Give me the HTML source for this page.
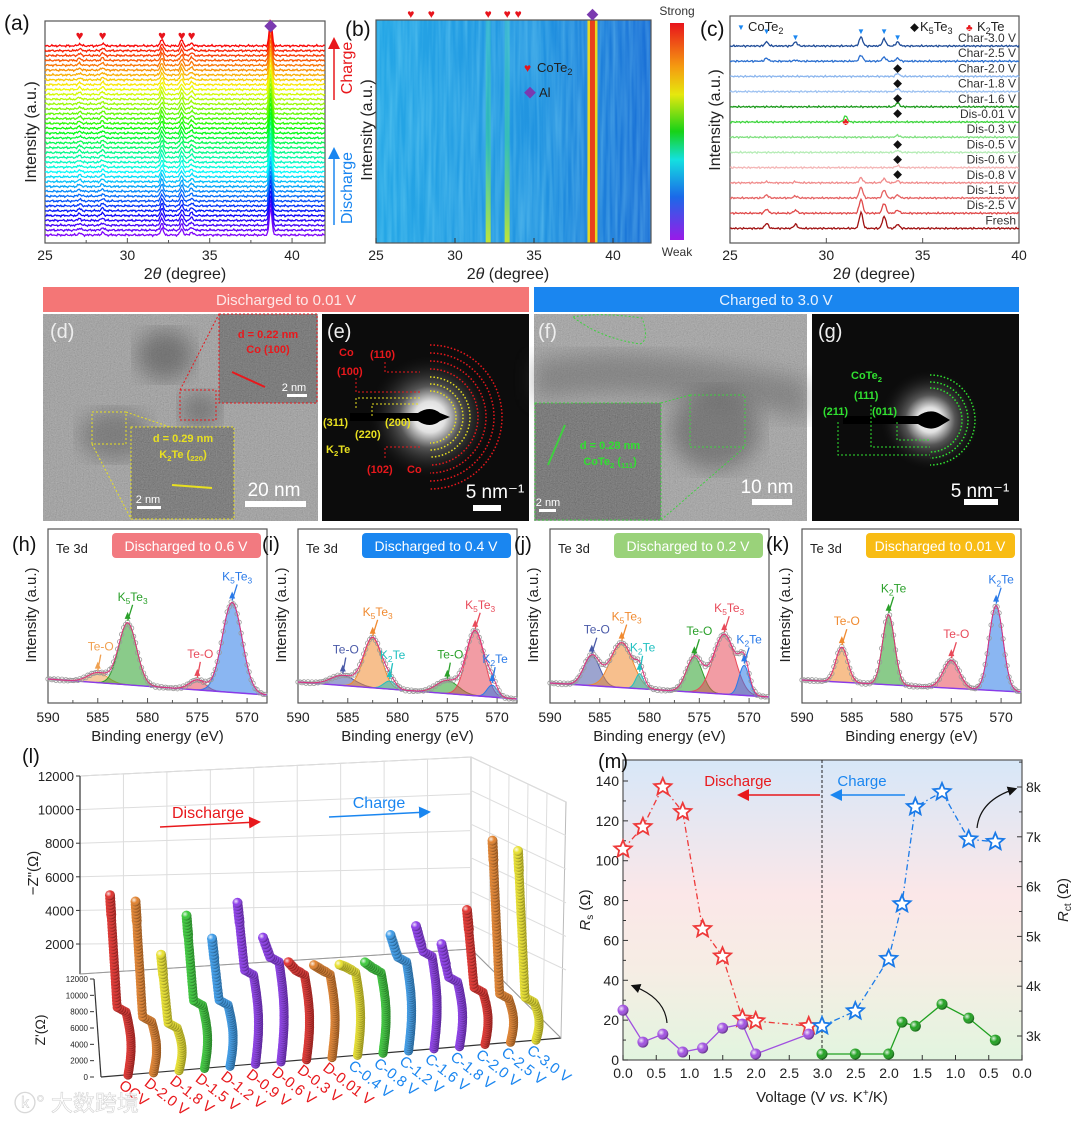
<!DOCTYPE html>
<html><head><meta charset="utf-8"><title>Figure</title>
<style>
html,body{margin:0;padding:0;background:#fff;}
svg{display:block;font-family:"Liberation Sans","Noto Sans CJK SC",sans-serif;}
</style></head>
<body>
<svg id="fig" width="1080" height="1123" viewBox="0 0 1080 1123" xmlns="http://www.w3.org/2000/svg">
<defs>
  <filter id="noise" x="0" y="0" width="100%" height="100%">
    <feTurbulence type="fractalNoise" baseFrequency="0.85" numOctaves="2" seed="3"/>
    <feColorMatrix type="matrix" values="0.33 0.33 0.33 0 0  0.33 0.33 0.33 0 0  0.33 0.33 0.33 0 0  0 0 0 0 1"/>
  </filter>
  <filter id="streak" x="0" y="0" width="100%" height="100%">
    <feTurbulence type="fractalNoise" baseFrequency="0.25 0.012" numOctaves="2" seed="5"/>
    <feColorMatrix type="matrix" values="0 0 0 0 0.4  0 0 0 0 0.9  0 0 0 0 1  0 0 0 0.9 -0.25"/>
  </filter>
  <filter id="blur6"><feGaussianBlur stdDeviation="10"/></filter>
  <linearGradient id="hmBg" x1="0" x2="1" y1="0" y2="0">
    <stop offset="0" stop-color="#25a7e6"/><stop offset="0.6" stop-color="#2193e0"/><stop offset="1" stop-color="#1a6fd6"/>
  </linearGradient>
  <linearGradient id="bandG" x1="0" x2="0" y1="0" y2="1">
    <stop offset="0" stop-color="#40e0a0" stop-opacity="0.25"/><stop offset="0.55" stop-color="#40e080" stop-opacity="0.45"/><stop offset="1" stop-color="#c8e830" stop-opacity="0.95"/>
  </linearGradient>
  <linearGradient id="cbar" x1="0" x2="0" y1="0" y2="1">
    <stop offset="0" stop-color="#e8141c"/><stop offset="0.2" stop-color="#f59a10"/><stop offset="0.33" stop-color="#e6e80e"/>
    <stop offset="0.5" stop-color="#17d217"/><stop offset="0.63" stop-color="#14e0e0"/><stop offset="0.8" stop-color="#1a6ae8"/>
    <stop offset="1" stop-color="#9a1ae8"/>
  </linearGradient>
  <linearGradient id="mBg" x1="0" x2="0" y1="0" y2="1">
    <stop offset="0" stop-color="#d7e7f8"/><stop offset="0.45" stop-color="#fbe7e8"/><stop offset="0.7" stop-color="#f6ede4"/><stop offset="1" stop-color="#e2f5df"/>
  </linearGradient>
  <radialGradient id="saed" cx="0.5" cy="0.5" r="0.5">
    <stop offset="0" stop-color="#ffffff"/><stop offset="0.25" stop-color="#e0e0e0"/><stop offset="0.5" stop-color="#555"/><stop offset="1" stop-color="#111" stop-opacity="0"/>
  </radialGradient>
  <radialGradient id="ball" cx="0.35" cy="0.35" r="0.65">
    <stop offset="0" stop-color="#fff" stop-opacity="0.85"/><stop offset="0.5" stop-color="#fff" stop-opacity="0"/><stop offset="1" stop-color="#000" stop-opacity="0.35"/>
  </radialGradient>
  <marker id="arrR" markerWidth="8" markerHeight="8" refX="6" refY="4" orient="auto"><path d="M0,0 L8,4 L0,8 z" fill="#e8181c"/></marker>
  <marker id="arrB" markerWidth="8" markerHeight="8" refX="6" refY="4" orient="auto"><path d="M0,0 L8,4 L0,8 z" fill="#1a86f0"/></marker>
  <marker id="arrK" markerWidth="8" markerHeight="8" refX="6" refY="4" orient="auto"><path d="M0,0 L8,4 L0,8 z" fill="#111"/></marker>
</defs>
<g id="root"></g>
</svg>
<script>
// ---------------- DATA ----------------
const aPeaks=[27.1,28.5,32.1,33.3,33.9,38.7];
const aHeights=[2,2.5,7,6,3,26];
const aTraceCount=40;
const aTicks=[25,30,35,40];
const bPeaks=[32.1,33.3,38.7];
const bTicks=[25,30,35,40];
const cLabels=['Char-3.0 V','Char-2.5 V','Char-2.0 V','Char-1.8 V','Char-1.6 V','Dis-0.01 V','Dis-0.3 V','Dis-0.5 V','Dis-0.6 V','Dis-0.8 V','Dis-1.5 V','Dis-2.5 V','Fresh'];
const cColors=['#1f4c98','#2b6fd0','#8cb6ee','#9ec2f1','#1b9a1b','#3bd43b','#7fe07f','#b6ecb6','#f4b6b6','#f08b8b','#e56262','#e04a4a','#a01212'];
const cPeakPos=[26.9,28.4,31.8,33.0,33.7,31.0];
const cPeakInt=[[4,4,9,7,4,0],[3,1,6,4,3,0],[0,0,0,0,3,0],[0,0,0,0,3,0],[0,0,0,0,4,0],[0,0,0,0,0,6],[0,0,0,0,2,0],[0,0,0,0,2,0],[0,0,0,0,2,0],[1,1,5,4,2,0],[3,2,11,8,3,0],[4,3,14,10,3,0],[5,4,16,12,4,0]];
const cTicks=[25,30,35,40];
const xpsTicks=[590,585,580,575,570];
const xpsH=[{c:585,h:.1,s:1.0,col:'#f0a050',lab:'Te-O'},{c:582,h:.62,s:.9,col:'#2aa02a',lab:'K5Te3'},{c:575,h:.1,s:.8,col:'#e84a5a',lab:'Te-O'},{c:571.5,h:.9,s:1.0,col:'#2a7ae8',lab:'K5Te3'}];
const xpsI=[{c:585.5,h:.1,s:1.2,col:'#4a5aa8',lab:'Te-O'},{c:582.5,h:.5,s:.9,col:'#f08a30',lab:'K5Te3'},{c:580.8,h:.08,s:.6,col:'#20c0c0',lab:'K2Te'},{c:575,h:.13,s:1.1,col:'#2aa02a',lab:'Te-O'},{c:572.2,h:.65,s:.9,col:'#e84a5a',lab:'K5Te3'},{c:570.5,h:.12,s:.5,col:'#2a7ae8',lab:'K2Te'}];
const xpsJ=[{c:585.8,h:.3,s:.8,col:'#4a5aa8',lab:'Te-O'},{c:582.8,h:.45,s:1.1,col:'#f08a30',lab:'K5Te3'},{c:581,h:.15,s:.4,col:'#20c0c0',lab:'K2Te'},{c:575.5,h:.35,s:.8,col:'#2aa02a',lab:'Te-O'},{c:572.5,h:.6,s:1.1,col:'#e84a5a',lab:'K5Te3'},{c:570.5,h:.3,s:.5,col:'#2a7ae8',lab:'K2Te'}];
const xpsK=[{c:586,h:.35,s:.6,col:'#f08a30',lab:'Te-O'},{c:581.3,h:.7,s:.6,col:'#2aa02a',lab:'K2Te'},{c:575,h:.28,s:.8,col:'#e84a5a',lab:'Te-O'},{c:570.5,h:.85,s:.7,col:'#2a7ae8',lab:'K2Te'}];
const lNames=['OCV','D-2.0 V','D-1.8 V','D-1.5 V','D-1.2 V','D-0.9 V','D-0.6 V','D-0.3 V','D-0.01 V','C-0.4 V','C-0.8 V','C-1.2 V','C-1.6 V','C-1.8 V','C-2.0 V','C-2.5 V','C-3.0 V'];
const lTopZ=[10700,10200,6900,9100,7600,9600,7400,5800,5500,5400,5400,6900,7300,6100,8000,12000,11250];
const lKneeZ=[3750,3050,2550,3750,3650,5300,5950,5050,4950,4950,4800,5300,5500,3850,3100,2600,2250];
const lColors=['#e0302c','#e0802c','#e8e02c','#3ac83a','#3a9ae8','#8a3ae8','#8a3ae8','#e0302c','#e0802c','#e8e02c','#3ac83a','#3a9ae8','#8a3ae8','#8a3ae8','#e0302c','#e0802c','#e8e02c'];
const lZTicks=[12000,10000,8000,6000,4000,2000];
const lZpTicks=[12000,10000,8000,6000,4000,2000,0];
const mV=[0,0.3,0.6,0.9,1.2,1.5,1.8,2.0,2.8];
const mRsDis=[25,9,13,4,6,16,18,3,13];
const mRctDis=[6.75,7.2,8.0,7.5,5.15,4.6,3.35,3.3,3.2];
const mVc=[3.0,2.5,2.0,1.8,1.6,1.2,0.8,0.4];
const mRsCh=[3,3,3,19,17,28,21,10];
const mRctCh=[3.2,3.5,4.55,5.65,7.6,7.9,6.95,6.9];
const mLeftTicks=[0,20,40,60,80,100,120,140];
const mRightTicks=[3,4,5,6,7,8];
const mXTicks=['0.0','0.5','1.0','1.5','2.0','2.5','3.0','2.5','2.0','1.5','1.0','0.5','0.0'];

// ---------------- HELPERS ----------------
const NS='http://www.w3.org/2000/svg';
const root=document.getElementById('root');
function mk(tag,parent,attrs){const e=document.createElementNS(NS,tag);for(const k in attrs)e.setAttribute(k,attrs[k]);parent.appendChild(e);return e;}
function grp(name){const g=mk('g',root,{});


return g;}
function tx(parent,x,y,s,attrs){const t=mk('text',parent,Object.assign({x:x,y:y},attrs||{}));t.textContent=s;return t;}
function chem(parent,x,y,s,attrs){const t=mk('text',parent,Object.assign({x:x,y:y},attrs||{}));
  const parts=s.match(/[A-Za-z\-\(\) ]+|\d+/g)||[];
  let prevSub=false;
  parts.forEach(p=>{const ts=mk('tspan',t,{});ts.textContent=p;const sub=/^\d+$/.test(p);if(sub)ts.setAttribute('font-size','0.7em');ts.setAttribute('dy',sub?'3':(prevSub?'-3':'0'));prevSub=sub;});
  return t;}
function frame(g,x,y,w,h){return mk('rect',g,{x:x,y:y,width:w,height:h,fill:'none',stroke:'#555','stroke-width':1.2});}
function jit(v,i){return 0.9*Math.sin(v*37.1+i*3.1)*Math.sin(v*11.3+i*1.7)+0.4*Math.sin(v*91+i);}

// ---------------- PANEL A ----------------
(function(){
const g=grp('panel-a-xrd-waterfall');
const L=45,R=325,T=21,B=243;
const xa=v=>L+(v-25)/17*(R-L);
frame(g,L,T,R-L,B-T);
for(let i=0;i<aTraceCount;i++){
  const base=235-i*4.85;let d='';
  for(let v=25;v<=42.001;v+=0.06){let y=base;aPeaks.forEach((p,k)=>{y-=aHeights[k]*Math.exp(-Math.pow((v-p)/0.12,2));});y-=jit(v,i);d+=(d?'L':'M')+xa(v).toFixed(1)+','+y.toFixed(1);}
  const hue=270-i*270/(aTraceCount-1);
  const p=mk('path',g,{d:d,fill:'none',stroke:'hsl('+hue+',95%,50%)','stroke-width':1.3});
  
  
}
aTicks.forEach(t=>{mk('line',g,{x1:xa(t),x2:xa(t),y1:B,y2:B-5,stroke:'#555'});
  const l=tx(g,xa(t),260,String(t),{'font-size':14,'text-anchor':'middle',fill:'#222'});
  
  });
for(let t=27.5;t<42;t+=5)mk('line',g,{x1:xa(t),x2:xa(t),y1:B,y2:B-3,stroke:'#555'});
const xl=tx(g,185,279,'',{'font-size':16,'text-anchor':'middle',fill:'#222'});xl.innerHTML='2<tspan font-style="italic">θ</tspan> (degree)';


const yl=tx(g,0,0,'Intensity (a.u.)',{'font-size':16,'text-anchor':'middle',fill:'#222',transform:'translate(36,132) rotate(-90)'});


const pl=tx(g,4,30,'(a)',{'font-size':21,fill:'#111'});


aPeaks.forEach((p,k)=>{const s=tx(g,xa(p),k==5?31:40,k==5?'◆':'♥',{'font-size':13,'text-anchor':'middle',fill:k==5?'#7a3ab0':'#e8141c'});
  
  });
mk('line',g,{x1:334,y1:100,x2:334,y2:40,stroke:'#e8181c','stroke-width':1.5,'marker-end':'url(#arrR)'});
const ch=tx(g,0,0,'Charge',{'font-size':16,fill:'#e8181c','text-anchor':'middle',transform:'translate(352,68) rotate(-90)'});


mk('line',g,{x1:334,y1:225,x2:334,y2:150,stroke:'#1a86f0','stroke-width':1.5,'marker-end':'url(#arrB)'});
const dc=tx(g,0,0,'Discharge',{'font-size':16,fill:'#1a86f0','text-anchor':'middle',transform:'translate(352,188) rotate(-90)'});


})();

// ---------------- PANEL B ----------------
(function(){
const g=grp('panel-b-xrd-heatmap');
const L=376,R=651,T=20,B=243;
const xb=v=>L+(v-25)/15*237;
mk('rect',g,{x:L,y:T,width:R-L,height:B-T,fill:'url(#hmBg)'});
mk('rect',g,{x:L,y:T,width:R-L,height:B-T,filter:'url(#streak)',opacity:0.55});
bPeaks.forEach((p,k)=>{
  if(k<2){const r=mk('rect',g,{x:xb(p)-2.5,y:T,width:5,height:B-T,fill:'url(#bandG)'});
    
    }
  else{mk('rect',g,{x:xb(p)-5,y:T,width:10,height:B-T,fill:'#e8d820'});
    const r=mk('rect',g,{x:xb(p)-2.5,y:T,width:5,height:B-T,fill:'#e8401c'});
    
    }
});
frame(g,L,T,R-L,B-T);
bTicks.forEach(t=>{mk('line',g,{x1:xb(t),x2:xb(t),y1:B,y2:B-5,stroke:'#333'});
  const l=tx(g,xb(t),260,String(t),{'font-size':14,'text-anchor':'middle',fill:'#222'});
  
  });
const xl=tx(g,508,279,'',{'font-size':16,'text-anchor':'middle',fill:'#222'});xl.innerHTML='2<tspan font-style="italic">θ</tspan> (degree)';


const yl=tx(g,0,0,'Intensity (a.u.)',{'font-size':16,'text-anchor':'middle',fill:'#222',transform:'translate(372,130) rotate(-90)'});


const pl=tx(g,345,36,'(b)',{'font-size':21,fill:'#111'});


[27.2,28.5,32.1,33.3,34.0].forEach(p=>{const s=tx(g,xb(p),18,'♥',{'font-size':12,'text-anchor':'middle',fill:'#e8141c'});
  
  });
const ds=tx(g,xb(38.7),19,'◆',{'font-size':12,'text-anchor':'middle',fill:'#7a3ab0'});


tx(g,524,72,'♥',{'font-size':12,fill:'#e8141c'});
const l1t=chem(g,537,72,'CoTe2',{'font-size':13,fill:'#222'});


tx(g,524,97,'◆',{'font-size':12,fill:'#7a3ab0'});
const l2t=tx(g,539,97,'Al',{'font-size':13,fill:'#222'});


const cb=mk('rect',g,{x:670,y:23,width:14,height:217,fill:'url(#cbar)'});


const s1=tx(g,677,15,'Strong',{'font-size':12,'text-anchor':'middle',fill:'#333'});


const s2=tx(g,677,256,'Weak',{'font-size':12,'text-anchor':'middle',fill:'#333'});


})();

// ---------------- PANEL C ----------------
(function(){
const g=grp('panel-c-xrd-ex-situ');
const L=730,R=1019,T=16,B=243;
const xc=v=>L+(v-25)/15*(R-L);
frame(g,L,T,R-L,B-T);
cLabels.forEach((lab,i)=>{
  const base=46+i*15.2;let d='';
  for(let v=25;v<=40.001;v+=0.05){let y=base;cPeakPos.forEach((p,k)=>{y-=cPeakInt[i][k]*Math.exp(-Math.pow((v-p)/0.13,2));});y-=0.8*jit(v,i+7);d+=(d?'L':'M')+xc(v).toFixed(1)+','+y.toFixed(1);}
  const p=mk('path',g,{d:d,fill:'none',stroke:cColors[i],'stroke-width':1.3});
  
  
  const t=tx(g,1016,base-4,lab,{'font-size':12,'text-anchor':'end',fill:'#333'});
  
  
});
cTicks.forEach(t=>{mk('line',g,{x1:xc(t),x2:xc(t),y1:B,y2:B-5,stroke:'#555'});
  const l=tx(g,xc(t),260,String(t),{'font-size':14,'text-anchor':'middle',fill:'#222'});
  
  });
const xl=tx(g,874,279,'',{'font-size':16,'text-anchor':'middle',fill:'#222'});xl.innerHTML='2<tspan font-style="italic">θ</tspan> (degree)';


const yl=tx(g,0,0,'Intensity (a.u.)',{'font-size':16,'text-anchor':'middle',fill:'#222',transform:'translate(720,120) rotate(-90)'});


const pl=tx(g,700,36,'(c)',{'font-size':21,fill:'#111'});


[26.9,28.4,31.8,33.0,33.7].forEach((p,k)=>{tx(g,xc(p),k==1||k==4?40:34,'▼',{'font-size':8,'text-anchor':'middle',fill:'#1a86f0'});});
tx(g,737,30,'▼',{'font-size':8,fill:'#1a86f0'});
const lc=chem(g,748,31,'CoTe2',{'font-size':13,fill:'#222'});


[72,87,102,117,148,163,178].forEach(y=>tx(g,xc(33.7),y,'◆',{'font-size':9,'text-anchor':'middle',fill:'#111'}));
tx(g,xc(31.0),125,'♣',{'font-size':10,'text-anchor':'middle',fill:'#e8181c'});
tx(g,910,31,'◆',{'font-size':9,fill:'#111'});
const lk=chem(g,920,31,'K5Te3',{'font-size':13,fill:'#222'});


tx(g,966,31,'♣',{'font-size':10,fill:'#e8181c'});
const lk2=chem(g,977,31,'K2Te',{'font-size':13,fill:'#222'});


})();

// ---------------- BANNERS + TEM ----------------
(function(){
const g=grp('tem-row');
const b1=mk('rect',g,{x:43,y:287,width:486,height:25,fill:'#f47676'});


tx(g,286,305,'Discharged to 0.01 V',{'font-size':15,'text-anchor':'middle',fill:'#fde8e8'});
const b2=mk('rect',g,{x:534,y:287,width:485,height:25,fill:'#1a86f0'});


tx(g,776,305,'Charged to 3.0 V',{'font-size':15,'text-anchor':'middle',fill:'#e8f2fe'});
function tem(x,y,w,h,name,base){const r=mk('rect',g,{x:x,y:y,width:w,height:h,fill:base});
  
  
  return mk('rect',g,{x:x,y:y,width:w,height:h,filter:'url(#noise)',opacity:0.45,'style':'mix-blend-mode:overlay'});}
tem(43,314,275,207,'tem-image-d','#8c8c8c');
mk('ellipse',g,{cx:165,cy:355,rx:28,ry:25,fill:'#444',opacity:0.5,filter:'url(#blur6)'});
mk('ellipse',g,{cx:115,cy:435,rx:35,ry:25,fill:'#444',opacity:0.4,filter:'url(#blur6)'});
mk('ellipse',g,{cx:200,cy:410,rx:20,ry:18,fill:'#444',opacity:0.45,filter:'url(#blur6)'});
mk('rect',g,{x:219,y:314,width:98,height:89,fill:'#555'});
mk('rect',g,{x:219,y:314,width:98,height:89,filter:'url(#noise)',opacity:0.4});
mk('rect',g,{x:219,y:314,width:98,height:89,fill:'none',stroke:'#e8181c','stroke-dasharray':'2,2'});
mk('rect',g,{x:180,y:390,width:36,height:30,fill:'none',stroke:'#e8181c','stroke-dasharray':'2,2'});
mk('polyline',g,{points:'180,390 219,314',fill:'none',stroke:'#e8181c','stroke-dasharray':'2,2'});
tx(g,268,338,'d = 0.22 nm',{'font-size':11,'font-weight':'bold','text-anchor':'middle',fill:'#e8181c'});
tx(g,268,353,'Co (100)',{'font-size':11,'font-weight':'bold','text-anchor':'middle',fill:'#e8181c'});
mk('line',g,{x1:232,y1:372,x2:265,y2:387,stroke:'#e8181c','stroke-width':2});
tx(g,294,391,'2 nm',{'font-size':11,'text-anchor':'middle',fill:'#fff'});
mk('rect',g,{x:287,y:394,width:20,height:3,fill:'#fff'});
mk('rect',g,{x:131,y:427,width:103,height:92,fill:'#505050'});
mk('rect',g,{x:131,y:427,width:103,height:92,filter:'url(#noise)',opacity:0.45});
mk('rect',g,{x:131,y:427,width:103,height:92,fill:'none',stroke:'#e8e020','stroke-dasharray':'2,2'});
mk('rect',g,{x:92,y:412,width:34,height:32,fill:'none',stroke:'#e8e020','stroke-dasharray':'2,2'});
mk('line',g,{x1:92,y1:444,x2:131,y2:519,stroke:'#e8e020','stroke-dasharray':'2,2'});
mk('line',g,{x1:126,y1:412,x2:170,y2:427,stroke:'#e8e020','stroke-dasharray':'2,2'});
tx(g,183,442,'d = 0.29 nm',{'font-size':11,'font-weight':'bold','text-anchor':'middle',fill:'#e8e020'});
chem(g,183,458,'K2Te (220)',{'font-size':11,'font-weight':'bold','text-anchor':'middle',fill:'#e8e020'});
mk('line',g,{x1:172,y1:485,x2:212,y2:488,stroke:'#e8e020','stroke-width':2});
tx(g,148,503,'2 nm',{'font-size':11,'text-anchor':'middle',fill:'#fff'});
mk('rect',g,{x:137,y:506,width:24,height:3,fill:'#fff'});
tx(g,274,496,'20 nm',{'font-size':19,'text-anchor':'middle',fill:'#fff'});
mk('rect',g,{x:245,y:501,width:61,height:6,fill:'#fff'});
tx(g,50,338,'(d)',{'font-size':20,fill:'#eee'});
const e=mk('rect',g,{x:322,y:314,width:207,height:207,fill:'#0c0c0c'});


mk('circle',g,{cx:430,cy:417,r:62,fill:'url(#saed)'});
mk('path',g,{d:'M350,413 L418,413 Q430,405 440,413 L450,417 L440,421 Q430,429 418,421 L350,421 z',fill:'#000'});
[26,33,40].forEach(r=>mk('path',g,{d:'M430,'+(417-r)+' A'+r+','+r+' 0 0 1 430,'+(417+r),fill:'none',stroke:'#e8e020','stroke-width':1.5,'stroke-dasharray':'1.5,2'}));
[48,56,64,72].forEach(r=>mk('path',g,{d:'M430,'+(417-r)+' A'+r+','+r+' 0 0 1 430,'+(417+r),fill:'none',stroke:'#e8181c','stroke-width':1.5,'stroke-dasharray':'1.5,2'}));
tx(g,339,356,'Co',{'font-size':11,'font-weight':'bold',fill:'#e8181c'});
tx(g,370,358,'(110)',{'font-size':11,'font-weight':'bold',fill:'#e8181c'});
tx(g,337,375,'(100)',{'font-size':11,'font-weight':'bold',fill:'#e8181c'});
tx(g,323,426,'(311)',{'font-size':11,'font-weight':'bold',fill:'#e8e020'});
tx(g,355,438,'(220)',{'font-size':11,'font-weight':'bold',fill:'#e8e020'});
tx(g,385,426,'(200)',{'font-size':11,'font-weight':'bold',fill:'#e8e020'});
chem(g,326,453,'K2Te',{'font-size':11,'font-weight':'bold',fill:'#e8e020'});
tx(g,367,473,'(102)',{'font-size':11,'font-weight':'bold',fill:'#e8181c'});
tx(g,407,473,'Co',{'font-size':11,'font-weight':'bold',fill:'#e8181c'});
mk('polyline',g,{points:'356,408 356,398 420,398',fill:'none',stroke:'#e8e020','stroke-dasharray':'2,2'});
mk('polyline',g,{points:'372,416 372,404 420,404',fill:'none',stroke:'#e8e020','stroke-dasharray':'2,2'});
mk('polyline',g,{points:'356,378 356,392 420,392',fill:'none',stroke:'#e8181c','stroke-dasharray':'2,2'});
mk('polyline',g,{points:'385,362 385,372 420,372',fill:'none',stroke:'#e8181c','stroke-dasharray':'2,2'});
mk('polyline',g,{points:'385,458 385,447 420,447',fill:'none',stroke:'#e8181c','stroke-dasharray':'2,2'});
tx(g,495,498,'5 nm⁻¹',{'font-size':19,'text-anchor':'middle',fill:'#fff'});
mk('rect',g,{x:473,y:505,width:28,height:6,fill:'#fff'});
tx(g,327,338,'(e)',{'font-size':20,fill:'#eee'});
tem(534,314,273,207,'tem-image-f','#909090');
mk('path',g,{d:'M534,360 Q640,340 807,380 L807,420 Q650,380 534,400 z',fill:'#555',opacity:0.4,filter:'url(#blur6)'});
mk('ellipse',g,{cx:715,cy:430,rx:45,ry:40,fill:'#444',opacity:0.45,filter:'url(#blur6)'});
mk('path',g,{d:'M573,317 Q600,312 642,318 Q650,340 640,344 Q600,338 573,317 z',fill:'none',stroke:'#40d040','stroke-dasharray':'2,2'});
mk('rect',g,{x:535,y:403,width:126,height:117,fill:'#4a4a4a'});
mk('rect',g,{x:535,y:403,width:126,height:117,filter:'url(#noise)',opacity:0.45});
mk('rect',g,{x:535,y:403,width:126,height:117,fill:'none',stroke:'#40d040','stroke-dasharray':'2,2'});
mk('rect',g,{x:690,y:395,width:55,height:52,fill:'none',stroke:'#40d040','stroke-dasharray':'2,2'});
mk('line',g,{x1:661,y1:403,x2:690,y2:395,stroke:'#40d040','stroke-dasharray':'2,2'});
mk('line',g,{x1:661,y1:520,x2:745,y2:447,stroke:'#40d040','stroke-dasharray':'2,2'});
mk('line',g,{x1:548,y1:465,x2:565,y2:425,stroke:'#40d040','stroke-width':2});
tx(g,610,449,'d = 0.28 nm',{'font-size':11,'font-weight':'bold','text-anchor':'middle',fill:'#30e030'});
chem(g,610,465,'CoTe2 (111)',{'font-size':11,'font-weight':'bold','text-anchor':'middle',fill:'#30e030'});
tx(g,548,506,'2 nm',{'font-size':11,'text-anchor':'middle',fill:'#fff'});
mk('rect',g,{x:539,y:509,width:17,height:3,fill:'#fff'});
tx(g,767,493,'10 nm',{'font-size':19,'text-anchor':'middle',fill:'#fff'});
mk('rect',g,{x:752,y:499,width:40,height:6,fill:'#fff'});
tx(g,538,338,'(f)',{'font-size':20,fill:'#eee'});
const ge=mk('rect',g,{x:812,y:314,width:207,height:207,fill:'#0c0c0c'});


mk('circle',g,{cx:930,cy:420,r:50,fill:'url(#saed)'});
mk('path',g,{d:'M843,416 L918,416 Q930,408 940,414 L950,420 L940,426 Q930,432 918,424 L843,424 z',fill:'#000'});
[32,38,45].forEach(r=>mk('path',g,{d:'M930,'+(420-r)+' A'+r+','+r+' 0 0 1 930,'+(420+r),fill:'none',stroke:'#30e030','stroke-width':1.5,'stroke-dasharray':'1.5,2'}));
chem(g,851,379,'CoTe2',{'font-size':11,'font-weight':'bold',fill:'#30e030'});
tx(g,854,399,'(111)',{'font-size':11,'font-weight':'bold',fill:'#30e030'});
tx(g,823,415,'(211)',{'font-size':11,'font-weight':'bold',fill:'#30e030'});
tx(g,872,415,'(011)',{'font-size':11,'font-weight':'bold',fill:'#30e030'});
mk('polyline',g,{points:'838,422 838,455 930,455',fill:'none',stroke:'#30e030','stroke-dasharray':'2,2'});
mk('polyline',g,{points:'871,405 871,447 930,447',fill:'none',stroke:'#30e030','stroke-dasharray':'2,2'});
mk('polyline',g,{points:'897,422 897,440 930,440',fill:'none',stroke:'#30e030','stroke-dasharray':'2,2'});
tx(g,980,497,'5 nm⁻¹',{'font-size':19,'text-anchor':'middle',fill:'#fff'});
mk('rect',g,{x:964,y:499,width:34,height:6,fill:'#fff'});
tx(g,818,338,'(g)',{'font-size':20,fill:'#eee'});
})();

// ---------------- XPS PANELS ----------------
function xpsPanel(name,letter,L,peaks,bl,br,badge,badgeCol){
const g=grp(name);
const W=219,T=529,B=703,R=L+W;
const xx=e=>L+(590-e)/22*W;
const bg=e=>bl+(br-bl)*(590-e)/22;
const S=100;
frame(g,L,T,W,B-T);
peaks.forEach(pk=>{let d='';const lo=pk.c+3.5*pk.s,hi=pk.c-3.5*pk.s;
  for(let e=lo;e>=hi;e-=0.1){const y=bg(e)-S*pk.h*Math.exp(-Math.pow((e-pk.c)/pk.s,2)/2);d+=(d?'L':'M')+xx(e).toFixed(1)+','+y.toFixed(1);}
  d+='L'+xx(hi).toFixed(1)+','+bg(hi).toFixed(1)+'L'+xx(lo).toFixed(1)+','+bg(lo).toFixed(1)+'z';
  const p=mk('path',g,{d:d,fill:pk.col,'fill-opacity':0.55,stroke:pk.col,'stroke-width':1});
  
  
});
let env='';const pts=[];
for(let e=590;e>=568;e-=0.1){let y=bg(e);peaks.forEach(pk=>{y-=S*pk.h*Math.exp(-Math.pow((e-pk.c)/pk.s,2)/2);});env+=(env?'L':'M')+xx(e).toFixed(1)+','+y.toFixed(1);pts.push([xx(e),y]);}
const bgl=mk('line',g,{x1:L,y1:bl,x2:R,y2:br,stroke:'#8a3ae8','stroke-width':1.4});


pts.forEach((p,i)=>{if(i%2==0){mk('circle',g,{cx:p[0],cy:p[1]+0.8*Math.sin(i*1.7),r:2.2,fill:'none',stroke:'#999','stroke-width':0.8});}});
const ev=mk('path',g,{d:env,fill:'none',stroke:'#e0307a','stroke-width':1});


peaks.forEach((pk,k)=>{const top=bg(pk.c)-S*pk.h;const lx=xx(pk.c)+(pk.h<0.2?3:5),ly=top-22;
  mk('line',g,{x1:lx,y1:ly+4,x2:xx(pk.c),y2:top-2,stroke:pk.col,'stroke-width':1.3});
  mk('path',g,{d:'M'+(xx(pk.c)-3)+','+(top-4)+' l3,-7 l3,7 z',fill:pk.col});
  const t=chem(g,lx,ly,pk.lab,{'font-size':12,'text-anchor':'middle',fill:pk.col});
  
  
});
xpsTicks.forEach(t=>{mk('line',g,{x1:xx(t),x2:xx(t),y1:B,y2:B-5,stroke:'#555'});
  const l=tx(g,xx(t),722,String(t),{'font-size':14,'text-anchor':'middle',fill:'#222'});
  
  });
for(let t=587.5;t>568;t-=5)mk('line',g,{x1:xx(t),x2:xx(t),y1:B,y2:B-3,stroke:'#555'});
const xl=tx(g,L+W/2,741,'Binding energy (eV)',{'font-size':15,'text-anchor':'middle',fill:'#222'});


const yl=tx(g,0,0,'Intensity (a.u.)',{'font-size':15,'text-anchor':'middle',fill:'#222',transform:'translate('+(L-12)+',615) rotate(-90)'});


tx(g,L-36,551,'('+letter+')',{'font-size':20,fill:'#111'});
tx(g,L+8,553,'Te 3d',{'font-size':13,fill:'#222'});
const br2=mk('rect',g,{x:L+64,y:533,width:149,height:25,rx:4,fill:badgeCol});


tx(g,L+138,551,badge,{'font-size':14,'text-anchor':'middle',fill:'#fff'});
}
xpsPanel('panel-h-xps','h',48,xpsH,679,695,'Discharged to 0.6 V','#f27a80');
xpsPanel('panel-i-xps','i',298,xpsI,682,699,'Discharged to 0.4 V','#1a86f0');
xpsPanel('panel-j-xps','j',550,xpsJ,683,697,'Discharged to 0.2 V','#9ad27a');
xpsPanel('panel-k-xps','k',802,xpsK,680,692,'Discharged to 0.01 V','#f8bc14');

// ---------------- PANEL L (3D EIS) ----------------
(function(){
const g=grp('panel-l-3d-eis');
const gridC='#ddd';
mk('polygon',g,{points:'80,776 471,757 471,949 80,974',fill:'none',stroke:'#bbb'});
mk('polygon',g,{points:'471,757 566,802 561,1038 471,949',fill:'none',stroke:'#bbb'});
for(let k=1;k<9;k++){const x1=80+k*391/9,y1=776-k*19/9,y2=974-k*25/9;mk('line',g,{x1:x1,y1:y1,x2:x1,y2:y2,stroke:gridC});}
for(let k=1;k<5;k++){const x=471+k*95/5;mk('line',g,{x1:x,y1:757+k*45/5,x2:x-k,y2:949+k*89/5,stroke:gridC});}
const zy=v=>776+(12000-v)/10000*168;
lZTicks.forEach(v=>{const y=zy(v);mk('line',g,{x1:80,y1:y,x2:471,y2:y-19*(1-(y-776)/198),stroke:gridC});mk('line',g,{x1:471,y1:y-19,x2:566,y2:y-19+45,stroke:gridC});
  mk('line',g,{x1:76,y1:y,x2:80,y2:y,stroke:'#333'});
  const t=tx(g,74,y+5,String(v),{'font-size':13,'text-anchor':'end',fill:'#222'});
  
  });
mk('line',g,{x1:80,y1:776,x2:80,y2:974,stroke:'#333','stroke-width':1.2});
mk('line',g,{x1:80,y1:974,x2:471,y2:949,stroke:'#999'});
const zpy=v=>1077-v/12000*98;
lZpTicks.forEach(v=>{const y=zpy(v);mk('line',g,{x1:90,y1:y,x2:94,y2:y,stroke:'#333'});
  const t=tx(g,88,y+3,String(v),{'font-size':8,'text-anchor':'end',fill:'#222'});
  
  });
mk('line',g,{x1:94,y1:979,x2:101,y2:1077,stroke:'#333','stroke-width':1.2});
mk('line',g,{x1:101,y1:1077,x2:561,y2:1038,stroke:'#333','stroke-width':1.2});
mk('line',g,{x1:471,y1:949,x2:561,y2:1038,stroke:'#999'});
const y1=tx(g,0,0,'−Z"(Ω)',{'font-size':15,'text-anchor':'middle',fill:'#222',transform:'translate(38,873) rotate(-90)'});


const y2=tx(g,0,0,"Z'(Ω)",{'font-size':14,'text-anchor':'middle',fill:'#222',transform:'translate(45,1030) rotate(-90)'});


tx(g,22,763,'(l)',{'font-size':20,fill:'#111'});
const dl=tx(g,208,818,'Discharge',{'font-size':16,'text-anchor':'middle',fill:'#e8181c'});


mk('line',g,{x1:160,y1:827,x2:258,y2:822,stroke:'#e8181c','stroke-width':1.5,'marker-end':'url(#arrR)'});
const cl=tx(g,379,808,'Charge',{'font-size':16,'text-anchor':'middle',fill:'#1a86f0'});


mk('line',g,{x1:329,y1:817,x2:428,y2:812,stroke:'#1a86f0','stroke-width':1.5,'marker-end':'url(#arrB)'});
const pxPerOhm=0.0168;
const n=lNames.length;
for(let i=n-1;i>=0;i--){
  const bx=128+i*(408/16),by=1075-i*(35/16);
  const hk=lKneeZ[i]*pxPerOhm,ht=lTopZ[i]*pxPerOhm;
  const cg=mk('g',g,{});
  
  
  const balls=[];
  const nb=Math.max(12,Math.round(hk/2.2));
  for(let k=0;k<=nb;k++){const f=k/nb;balls.push([bx+4*Math.sin(Math.PI*f)-2*f,by-hk*f]);}
  for(let k=1;k<=4;k++){balls.push([bx-2-k*2.2,by-hk-k*1.2]);}
  const tailH=ht-hk-5;const nt=Math.max(4,Math.round(tailH/3.2));
  for(let k=1;k<=nt;k++){const f=k/nt;balls.push([bx-11-f*7,by-hk-5-tailH*f]);}
  balls.forEach((b,k)=>{const r=k>balls.length-8?5:4.6;
    mk('circle',cg,{cx:b[0].toFixed(1),cy:b[1].toFixed(1),r:r,fill:lColors[i]});
    mk('circle',cg,{cx:b[0].toFixed(1),cy:b[1].toFixed(1),r:r,fill:'url(#ball)'});});
  const col=i<9?'#e8181c':'#1a86f0';
  const lt=tx(g,0,0,lNames[i],{'font-size':15,fill:col,transform:'translate('+(bx-10)+','+(by+12)+') rotate(38)'});
  
  
}
const wm=tx(g,14,1111,'ⓚ° 大数跨境',{'font-size':22,fill:'#fff','stroke':'#ccc','stroke-width':0.6,opacity:0.85});


})();

// ---------------- PANEL M ----------------
(function(){
const g=grp('panel-m-resistance');
const L=623,R=1022,T=760,B=1060,MID=822;
const xd=v=>L+v/3*(MID-L);
const xch=v=>MID+(3-v)/3*(R-MID);
const yL=v=>1060-v*(1060-781)/140;
const yR=v=>1036-(v-3)*(1036-787)/5;
mk('rect',g,{x:L,y:T,width:R-L,height:B-T,fill:'url(#mBg)'});
frame(g,L,T,R-L,B-T);
mk('line',g,{x1:MID,y1:T,x2:MID,y2:B,stroke:'#222','stroke-dasharray':'3,2'});
mLeftTicks.forEach(t=>{const y=yL(t);mk('line',g,{x1:L,x2:L+5,y1:y,y2:y,stroke:'#333'});
  const l=tx(g,L-4,y+5,String(t),{'font-size':14,'text-anchor':'end',fill:'#222'});
  
  
  if(t<140)mk('line',g,{x1:L,x2:L+3,y1:yL(t+10),y2:yL(t+10),stroke:'#333'});});
mRightTicks.forEach(t=>{const y=yR(t);mk('line',g,{x1:R,x2:R-5,y1:y,y2:y,stroke:'#333'});
  const l=tx(g,R+4,y+5,t+'k',{'font-size':14,fill:'#222'});
  
  
  mk('line',g,{x1:R,x2:R-3,y1:yR(t+0.5),y2:yR(t+0.5),stroke:'#333'});});
mXTicks.forEach((s,k)=>{const x=L+k*(R-L)/12;mk('line',g,{x1:x,x2:x,y1:B,y2:B-5,stroke:'#333'});
  const l=tx(g,x,1078,s,{'font-size':14,'text-anchor':'middle',fill:'#222'});
  
  });
const xt=tx(g,822,1102,'',{'font-size':15,'text-anchor':'middle',fill:'#222'});xt.innerHTML='Voltage (V <tspan font-style="italic">vs.</tspan> K<tspan font-size="10" dy="-6">+</tspan><tspan dy="6">/K)</tspan>';


const ylt=tx(g,0,0,'',{'font-size':15,'text-anchor':'middle',fill:'#222',transform:'translate(590,910) rotate(-90)'});ylt.innerHTML='<tspan font-style="italic">R</tspan><tspan font-size="10" dy="3">s</tspan><tspan dy="-3"> (Ω)</tspan>';


const yrt=tx(g,0,0,'',{'font-size':15,'text-anchor':'middle',fill:'#222',transform:'translate(1068,900) rotate(-90)'});yrt.innerHTML='<tspan font-style="italic">R</tspan><tspan font-size="10" dy="3">ct</tspan><tspan dy="-3"> (Ω)</tspan>';


tx(g,598,768,'(m)',{'font-size':20,fill:'#111'});
function star(cx,cy,r){let p='';for(let k=0;k<10;k++){const a=-Math.PI/2+k*Math.PI/5;const rr=k%2?r*0.45:r;p+=(cx+rr*Math.cos(a)).toFixed(1)+','+(cy+rr*Math.sin(a)).toFixed(1)+' ';}return p;}
function series(xs,ys,xf,yf,col,dash,kind,name){
  const pts=xs.map((v,k)=>xf(v)+','+yf(ys[k])).join(' ');
  const pl=mk('polyline',g,{points:pts,fill:'none',stroke:col,'stroke-width':1.3,'stroke-dasharray':dash});
  
  
  xs.forEach((v,k)=>{let m;
    if(kind=='star'){m=mk('polygon',g,{points:star(xf(v),yf(ys[k]),9),fill:'#fff',stroke:col,'stroke-width':1.8});}
    else{m=mk('circle',g,{cx:xf(v),cy:yf(ys[k]),r:5.5,fill:col});mk('circle',g,{cx:xf(v),cy:yf(ys[k]),r:5.5,fill:'url(#ball)'});}
    
    });
}
series(mV,mRctDis,xd,yR,'#ee3a3a','6,3,1.5,3','star','rct-discharge');
series(mVc,mRctCh,xch,yR,'#1a7ae8','6,3,1.5,3','star','rct-charge');
series(mV,mRsDis,xd,yL,'#a050e0','','ball','rs-discharge');
series(mVc,mRsCh,xch,yL,'#20a020','','ball','rs-charge');
const dt=tx(g,738,786,'Discharge',{'font-size':15,'text-anchor':'middle',fill:'#e8181c'});


mk('line',g,{x1:820,y1:795,x2:740,y2:795,stroke:'#e8181c','stroke-width':1.5,'marker-end':'url(#arrR)'});
const ct=tx(g,862,786,'Charge',{'font-size':15,'text-anchor':'middle',fill:'#1a86f0'});


mk('line',g,{x1:905,y1:795,x2:833,y2:795,stroke:'#1a86f0','stroke-width':1.5,'marker-end':'url(#arrB)'});
mk('path',g,{d:'M667,1023 Q665,998 633,986',fill:'none',stroke:'#111','stroke-width':1.2,'marker-end':'url(#arrK)'});
mk('path',g,{d:'M977,828 Q980,800 1015,789',fill:'none',stroke:'#111','stroke-width':1.2,'marker-end':'url(#arrK)'});
})();
</script>
</body></html>
